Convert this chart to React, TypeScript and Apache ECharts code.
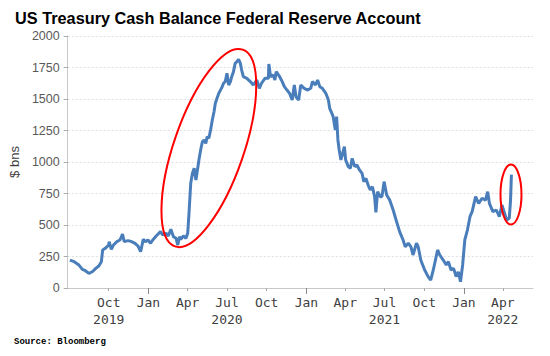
import React, { useEffect, useRef } from "react";
import * as echarts from "echarts";

const dates = [
  "2019-07-03","2019-07-13","2019-07-24","2019-08-01","2019-08-08","2019-08-16","2019-08-24","2019-09-01","2019-09-08","2019-09-14",
  "2019-09-17","2019-09-23","2019-10-01","2019-10-02","2019-10-07","2019-10-12","2019-10-20","2019-10-27","2019-11-02","2019-11-06",
  "2019-11-15","2019-11-23","2019-12-01","2019-12-08","2019-12-14","2019-12-20","2019-12-25","2019-12-31","2020-01-06","2020-01-11",
  "2020-01-19","2020-01-29","2020-02-03","2020-02-11","2020-02-16","2020-02-22","2020-02-28","2020-03-05","2020-03-09","2020-03-13",
  "2020-03-16","2020-03-22","2020-03-28","2020-04-01","2020-04-04","2020-04-08","2020-04-12","2020-04-16","2020-04-20","2020-04-23",
  "2020-04-27","2020-05-01","2020-05-05","2020-05-09","2020-05-13","2020-05-16","2020-05-20","2020-05-24","2020-05-28","2020-06-01",
  "2020-06-04","2020-06-08","2020-06-12","2020-06-16","2020-06-20","2020-06-23","2020-06-27","2020-07-01","2020-07-05","2020-07-09",
  "2020-07-12","2020-07-16","2020-07-20","2020-07-24","2020-07-28","2020-08-01","2020-08-04","2020-08-08","2020-08-16","2020-08-24",
  "2020-08-31","2020-09-08","2020-09-14","2020-09-19","2020-09-27","2020-10-05","2020-10-06","2020-10-10","2020-10-16","2020-10-20",
  "2020-10-23","2020-10-31","2020-11-06","2020-11-11","2020-11-17","2020-11-23","2020-11-29","2020-12-04","2020-12-08","2020-12-14",
  "2020-12-19","2020-12-27","2021-01-04","2021-01-11","2021-01-15","2021-01-22","2021-01-27","2021-02-01","2021-02-07","2021-02-15",
  "2021-02-21","2021-02-24","2021-03-01","2021-03-04","2021-03-09","2021-03-12","2021-03-15","2021-03-18","2021-03-22","2021-03-26",
  "2021-03-30","2021-04-02","2021-04-08","2021-04-13","2021-04-17","2021-04-23","2021-04-28","2021-05-04","2021-05-10","2021-05-14",
  "2021-05-19","2021-05-24","2021-05-29","2021-06-03","2021-06-08","2021-06-11","2021-06-15","2021-06-21","2021-06-25","2021-06-30",
  "2021-07-06","2021-07-13","2021-07-21","2021-07-29","2021-08-05","2021-08-13","2021-08-18","2021-08-25","2021-08-31","2021-09-05",
  "2021-09-13","2021-09-17","2021-09-23","2021-10-02","2021-10-10","2021-10-16","2021-10-22","2021-10-27","2021-11-01","2021-11-06",
  "2021-11-14","2021-11-21","2021-11-26","2021-12-02","2021-12-08","2021-12-14","2021-12-19","2021-12-24","2021-12-29","2022-01-03",
  "2022-01-09","2022-01-15","2022-01-20","2022-01-28","2022-02-04","2022-02-12","2022-02-20","2022-02-25","2022-03-01","2022-03-09",
  "2022-03-17","2022-03-24","2022-03-30","2022-04-04","2022-04-10","2022-04-16","2022-04-19","2022-04-21"
];

const balances = [
  222,209,182,148,137,116,129,156,175,209,
  302,315,341,368,307,341,368,381,428,368,
  376,368,355,333,288,386,368,381,355,381,
  413,447,421,434,413,466,407,394,341,407,
  386,413,394,434,593,831,910,950,857,923,
  1016,1095,1161,1175,1148,1201,1188,1254,1333,1399,
  1466,1506,1545,1571,1598,1625,1638,1704,1611,1638,
  1677,1717,1783,1796,1815,1783,1730,1677,1664,1638,
  1611,1651,1585,1625,1664,1664,1778,1677,1690,1651,
  1717,1677,1638,1598,1571,1545,1492,1611,1518,1492,
  1611,1585,1571,1585,1638,1611,1651,1598,1585,1545,
  1492,1426,1386,1360,1254,1360,1175,1095,1016,1069,
  1122,1016,963,950,1029,963,976,937,910,844,
  870,817,778,804,725,600,764,725,725,844,
  738,698,619,526,447,381,328,355,328,262,
  355,328,222,143,90,63,143,222,302,262,
  222,183,209,143,156,90,129,50,183,381,
  460,566,606,725,672,712,698,764,672,606,
  619,566,659,606,540,553,698,900
];

const quarterTicks = [
  "2019-10-01","2020-01-01","2020-04-01","2020-07-01","2020-10-01","2021-01-01",
  "2021-04-01","2021-07-01","2021-10-01","2022-01-01","2022-04-01"
];
const monthLabels = ["Oct","Jan","Apr","Jul","Oct","Jan","Apr","Jul","Oct","Jan","Apr"];
const yearLabels = ["2019","","","2020","","","","2021","","","2022"];
const yearStartTicks = ["2020-01-01","2021-01-01","2022-01-01"];

const xMin = "2019-06-28";
const xMax = "2022-06-10";

const titleText = "US Treasury Cash Balance Federal Reserve Account";
const yAxisName = "$ bns";
const sourceText = "Source: Bloomberg";

// annotation anchors (data coordinates)
const bigEllipseCenter = ["2020-05-20", 1111];
const smallEllipseCenter = ["2022-04-20", 742];

const ts = (s: string) => {
  const [y, m, d] = s.split("-").map(Number);
  return new Date(y, m - 1, d).getTime();
};

export default function App() {
  const ref = useRef<HTMLDivElement>(null);

  useEffect(() => {
    if (!ref.current) return;
    const chart = echarts.init(ref.current, undefined, { renderer: "svg" });
    const tickTs = quarterTicks.map(ts);
    const labelMap = new Map<number, string>();
    tickTs.forEach((t, i) => {
      labelMap.set(t, yearLabels[i] ? monthLabels[i] + "\n" + yearLabels[i] : monthLabels[i]);
    });

    const data = dates.map((d, i) => [ts(d), balances[i]]);

    chart.setOption({
      animation: false,
      textStyle: { fontFamily: "Liberation Sans" },
      title: {
        text: titleText,
        left: 10,
        top: 5,
        textStyle: { fontSize: 16.3, fontWeight: "bold", color: "#000", fontFamily: "Liberation Sans" },
      },
      grid: { left: 62, right: 17, top: 36, bottom: 68, containLabel: false },
      xAxis: [
        {
          type: "value",
          min: ts(xMin),
          max: ts(xMax),
          position: "bottom",
          axisLine: { show: true, lineStyle: { color: "#c8c8c8", width: 1 } },
          axisTick: {
            show: true,
            customValues: tickTs,
            length: 3,
            lineStyle: { color: "#aaaaaa" },
          },
          axisLabel: {
            show: true,
            customValues: tickTs,
            formatter: (v: number) => labelMap.get(v) ?? "",
            fontFamily: "DejaVu Sans Mono",
            fontSize: 13,
            lineHeight: 17,
            color: "#404040",
            margin: 6,
            hideOverlap: false,
            showMinLabel: true,
            showMaxLabel: true,
          },
          splitLine: { show: false },
        },
        {
          type: "value",
          min: ts(xMin),
          max: ts(xMax),
          position: "bottom",
          offset: 0,
          axisLine: { show: false },
          axisTick: {
            show: true,
            customValues: yearStartTicks.map(ts),
            length: 6,
            lineStyle: { color: "#888888" },
          },
          axisLabel: { show: false },
          splitLine: { show: false },
        },
      ],
      yAxis: {
        type: "value",
        min: 0,
        max: 2000,
        interval: 250,
        name: yAxisName,
        nameLocation: "middle",
        nameGap: 44,
        nameTextStyle: { fontSize: 13, color: "#404040", fontFamily: "Liberation Sans" },
        axisLine: { show: true, lineStyle: { color: "#c8c8c8" } },
        axisTick: { show: true, length: 4, lineStyle: { color: "#aaaaaa" } },
        axisLabel: {
          fontSize: 12.5,
          color: "#595959",
          margin: 8,
          fontFamily: "Liberation Sans",
          formatter: (v: number) => String(v),
        },
        splitLine: { show: true, lineStyle: { color: "#dedede", type: [2, 2], width: 1 } },
      },
      series: [
        {
          type: "line",
          data,
          showSymbol: false,
          symbol: "none",
          lineStyle: { color: "#4a7ebb", width: 3 },
          xAxisIndex: 0,
          yAxisIndex: 0,
        },
      ],
    });

    const big = chart.convertToPixel({ xAxisIndex: 0, yAxisIndex: 0 }, [
      ts(bigEllipseCenter[0] as string),
      bigEllipseCenter[1] as number,
    ]) as number[];
    const small = chart.convertToPixel({ xAxisIndex: 0, yAxisIndex: 0 }, [
      ts(smallEllipseCenter[0] as string),
      smallEllipseCenter[1] as number,
    ]) as number[];

    chart.setOption({
      graphic: [
        {
          type: "ellipse",
          x: big[0],
          y: big[1],
          rotation: (-19 * Math.PI) / 180,
          shape: { cx: 0, cy: 0, rx: 35, ry: 104 },
          style: { fill: "none", stroke: "#ff0000", lineWidth: 2 },
          z: 100,
        },
        {
          type: "ellipse",
          x: small[0],
          y: small[1],
          shape: { cx: 0, cy: 0, rx: 10.5, ry: 30 },
          style: { fill: "none", stroke: "#ff0000", lineWidth: 2 },
          z: 100,
        },
        {
          type: "text",
          left: 14,
          top: 337,
          style: {
            text: sourceText,
            fontFamily: "Liberation Mono",
            fontWeight: "bold",
            fontSize: 9,
            fill: "#000",
          },
        },
      ],
    });

    return () => chart.dispose();
  }, []);

  return (
    <div
      ref={ref}
      style={{ position: "fixed", left: 0, top: 0, width: 550, height: 356, background: "#fff" }}
    />
  );
}
